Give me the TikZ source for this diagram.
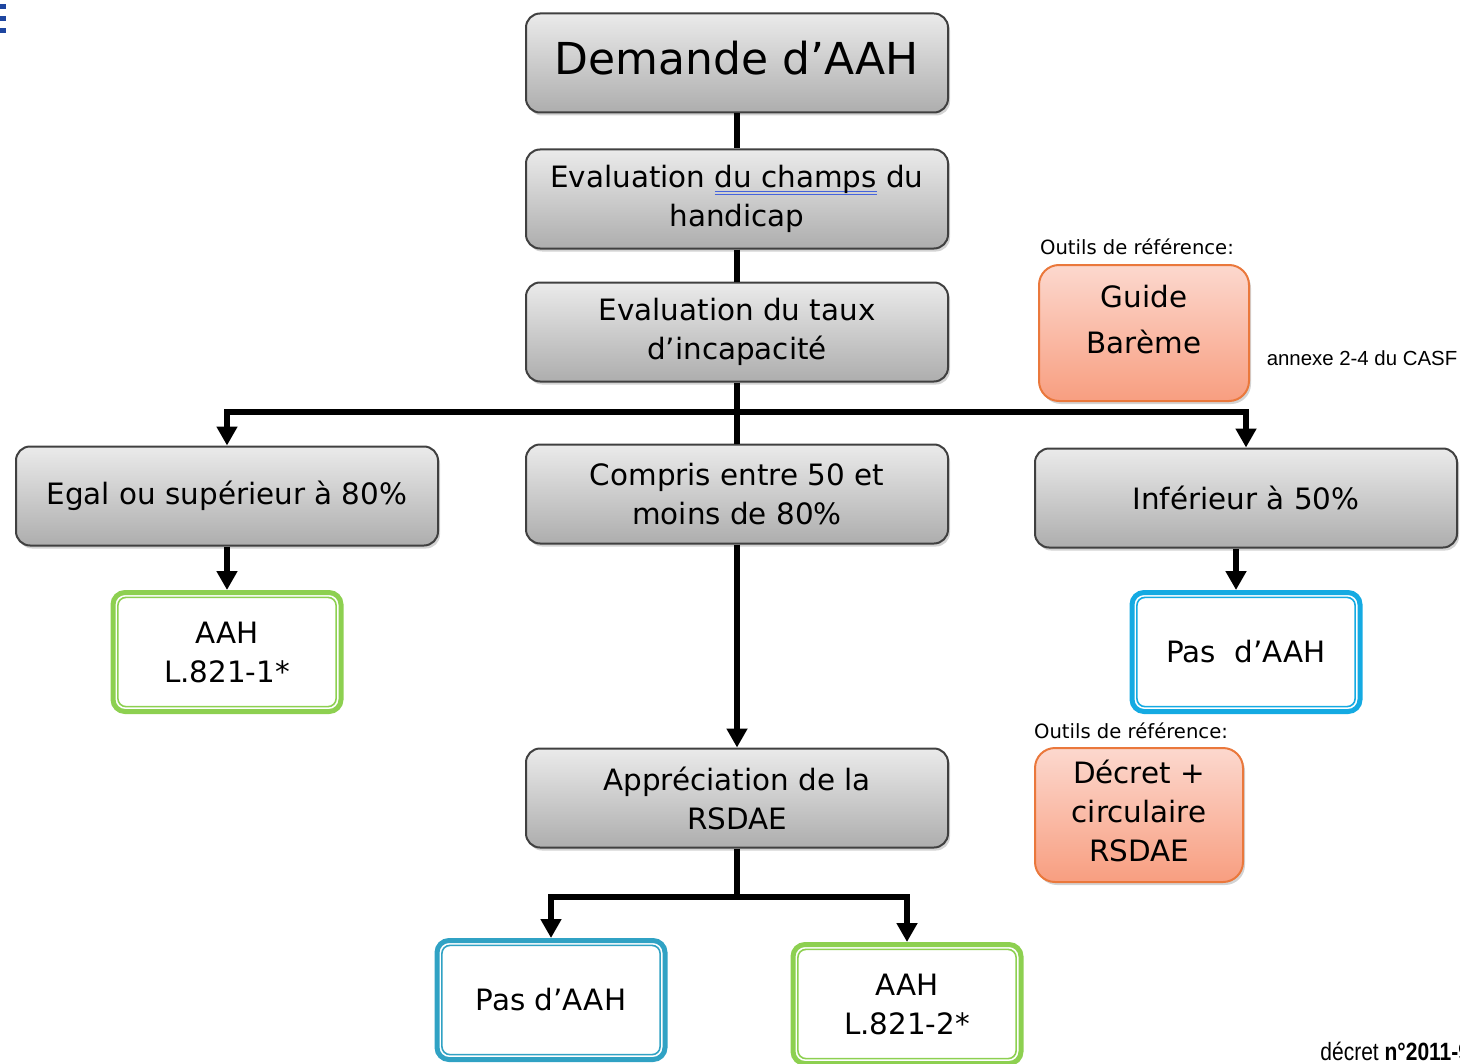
\documentclass[tikz,border=0pt]{standalone}
\usepackage{fontspec}
\setmainfont{DejaVu Sans}
\newfontfamily\arialfont{Liberation Sans}
\newfontfamily\narrowfont[FakeStretch=0.84]{Liberation Sans}
\usetikzlibrary{arrows.meta,shadows}
\definecolor{boxgreen}{RGB}{141,208,80}
\definecolor{boxcyan}{RGB}{20,170,226}
\definecolor{boxteal}{RGB}{48,162,196}
\definecolor{tooledge}{RGB}{234,120,60}
\definecolor{tooltop}{RGB}{252,216,206}
\definecolor{toolbottom}{RGB}{248,158,128}
\definecolor{spellblue}{RGB}{70,100,220}
\definecolor{markblue}{RGB}{30,70,160}
\newsavebox\markbox
\newcommand{\spellmark}[1]{\sbox\markbox{#1}%
  \rlap{\color{spellblue}\rule[-2pt]{\wd\markbox}{0.5pt}}%
  \rlap{\color{spellblue}\rule[-3.5pt]{\wd\markbox}{0.5pt}}\usebox\markbox}

\begin{document}
\begin{tikzpicture}[x=0.5pt, y=-0.5pt,
    every node/.style = {align=center, font=\fontsize{14.7}{19.5}\selectfont},
    greybox/.style = {draw=black!75, line width=1pt, rounded corners=7pt,
      top color=black!8, bottom color=black!32,
      minimum width=211pt, minimum height=49.5pt,
      drop shadow={shadow xshift=1pt, shadow yshift=-1.5pt, opacity=0.35}},
    resultbox/.style = {draw=#1, line width=2.5pt, rounded corners=6pt, fill=white,
      minimum width=114pt, minimum height=59.5pt},
    toolbox/.style = {draw=tooledge, line width=1pt, rounded corners=10pt,
      top color=tooltop, bottom color=toolbottom,
      drop shadow={shadow xshift=1pt, shadow yshift=-1.5pt, opacity=0.35}},
    smalltext/.style = {font=\fontsize{9.8}{12}\selectfont},
    link/.style = {line width=3pt},
    arrow/.style = {link, -{Triangle[width=10pt,length=9.5pt]}}]
  \useasboundingbox (0,0) rectangle (1460,1064);
  % bit of a letter at the page edge
  \fill[markblue] (0,4) rectangle (6,9);
  \fill[markblue] (0,16) rectangle (6,21);
  \fill[markblue] (0,28) rectangle (6,33);
  % main column
  \node[greybox, font=\fontsize{22}{26}\selectfont] (demande) at (737,63) {Demande d’AAH\\[-21pt]\mbox{}};
  \node[greybox] (champ) at (737,199) {Evaluation \spellmark{du champs} du\\handicap};
  \node[greybox] (taux) at (737,332) {Evaluation du taux\\d’incapacité};
  \node[greybox] (egal) at (227,496) {Egal ou supérieur à 80\%};
  \node[greybox] (compris) at (737,494) {Compris entre 50 et\\moins de 80\%};
  \node[greybox] (infer) at (1246,498) {Inférieur à 50\%};
  \node[greybox] (apprec) at (737,798) {Appréciation de la\\RSDAE};
  % outcomes
  \node[resultbox=boxgreen] (aah1) at (227,652) {AAH\\L.821-1*};
  \node[resultbox=boxcyan] (pas1) at (1246,652) {Pas\ \ d’AAH};
  \node[resultbox=boxteal] (pas2) at (551,1000) {Pas d’AAH};
  \node[resultbox=boxgreen] (aah2) at (907,1004) {AAH\\L.821-2*};
  \foreach \res/\col in {aah1/boxgreen, pas1/boxcyan, pas2/boxteal, aah2/boxgreen}
    \draw[\col, line width=0.8pt, rounded corners=4pt]
      ([shift={(3.7pt,-3.7pt)}]\res.north west) rectangle ([shift={(-3.7pt,3.7pt)}]\res.south east);
  % reference tools
  \node[smalltext] (outils1) at (1137,247) {Outils de référence:};
  \node[toolbox, minimum width=105pt, minimum height=68pt,
    font=\fontsize{14.7}{23}\selectfont] (guide) at (1144,333) {Guide\\Barème\\[-9pt]\mbox{}};
  \node[font=\arialfont\fontsize{10.2}{12}\selectfont] (annexe) at (1362,358) {annexe 2-4 du CASF};
  \node[smalltext] (outils2) at (1131,731) {Outils de référence:};
  \node[toolbox, minimum width=104pt, minimum height=67pt] (decret) at (1139,815) {Décret +\\circulaire\\RSDAE\\[-15.5pt]\mbox{}};
  \node[anchor=base west, inner sep=0pt, font=\narrowfont\fontsize{12.5}{14}\selectfont] (source) at (1320,1060) {décret \textbf{n°2011-9}};
  % connectors
  \coordinate (split) at (737,412);
  \coordinate (fork) at (737,897);
  \draw[link] (demande) -- (champ);
  \draw[link] (champ) -- (taux);
  \draw[link] (taux) -- (compris);
  \draw[arrow] (split) -| (egal);
  \draw[arrow] (split) -| (infer);
  \draw[arrow] (egal) -- (aah1);
  \draw[arrow] ([xshift=-5pt]infer.south) -- ([xshift=-5pt]pas1.north);
  \draw[arrow] (compris) -- (apprec);
  \draw[link] (apprec) -- (fork);
  \draw[arrow] (fork) -| (pas2);
  \draw[arrow] (fork) -| (aah2);
\end{tikzpicture}
\end{document}
